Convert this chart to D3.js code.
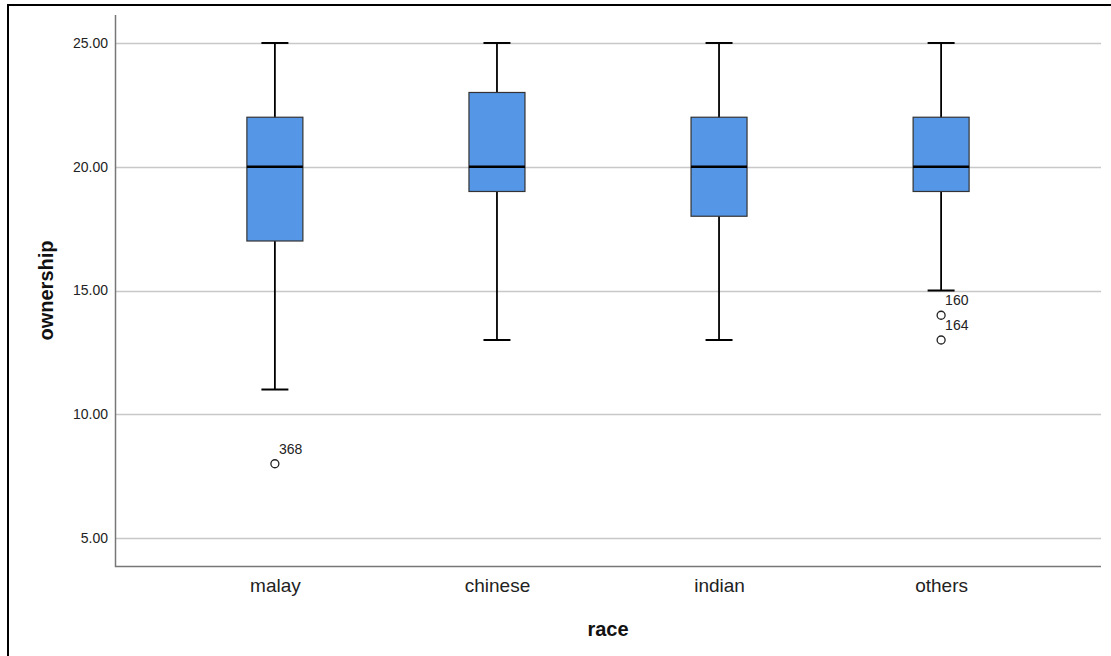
<!DOCTYPE html>
<html>
<head>
<meta charset="utf-8">
<script src="https://cdn.jsdelivr.net/npm/d3@7"></script>
<style>
  body { margin: 0; background: #fff; }
  svg { display: block; font-family: "Liberation Sans", Arial, sans-serif; }
</style>
</head>
<body>
<div id="chart"></div>
<script>
// box plot values
var categories = ['malay', 'chinese', 'indian', 'others'];
var mins    = [11, 13, 13, 15];
var q1s     = [17, 19, 18, 19];
var medians = [20, 20, 20, 20];
var q3s     = [22, 23, 22, 22];
var maxs    = [25, 25, 25, 25];
var outliers = [
  {race: 'malay',  value: 8,  id: '368'},
  {race: 'others', value: 14, id: '160'},
  {race: 'others', value: 13, id: '164'}
];
var yTicks = [5, 10, 15, 20, 25];

var width = 1111,
    height = 656;

var plotLeft = 115, plotRight = 1101, plotTop = 15, plotBottom = 566;

var svg = d3.select('#chart').append('svg')
    .attr('width', width)
    .attr('height', height);

// outer frame (left + top visible)
svg.append('path')
    .attr('d', 'M8,' + height + 'V5H' + width)
    .attr('fill', 'none')
    .attr('stroke', '#000')
    .attr('stroke-width', 2);

var x = d3.scalePoint()
    .domain(categories)
    .range([plotLeft, plotRight])
    .padding(0.72);

var y = d3.scaleLinear()
    .domain([3.87, 26.13])
    .range([plotBottom, plotTop]);

// gridlines
svg.append('g')
    .selectAll('line')
    .data(yTicks)
    .enter().append('line')
    .attr('x1', plotLeft)
    .attr('x2', plotRight)
    .attr('y1', function(d) { return Math.round(y(d)) + 0.5; })
    .attr('y2', function(d) { return Math.round(y(d)) + 0.5; })
    .attr('stroke', '#c8c8c8')
    .attr('stroke-width', 1.5);

// axes
var yAxis = svg.append('g')
    .attr('transform', 'translate(' + plotLeft + ',0)')
    .call(d3.axisLeft(y).tickValues(yTicks).tickSize(0).tickPadding(7)
      .tickFormat(d3.format('.2f')));
yAxis.select('.domain').remove();
yAxis.selectAll('text')
    .attr('font-size', 14)
    .attr('fill', '#222')
    .style('font-family', '"Liberation Sans", Arial, sans-serif');

var xAxis = svg.append('g')
    .attr('transform', 'translate(0,' + plotBottom + ')')
    .call(d3.axisBottom(x).tickSize(0).tickPadding(13));
xAxis.select('.domain').remove();
xAxis.selectAll('text')
    .attr('font-size', 19)
    .attr('fill', '#222')
    .style('font-family', '"Liberation Sans", Arial, sans-serif');

svg.append('path')
    .attr('d', 'M' + (plotLeft + 0.5) + ',' + plotTop + 'V' + (plotBottom + 0.5) + 'H' + plotRight)
    .attr('fill', 'none')
    .attr('stroke', '#777')
    .attr('stroke-width', 1.5);

// boxes
var boxW = 56, capW = 27;
var stats = categories.map(function(c, i) {
  return {race: c, min: mins[i], q1: q1s[i], med: medians[i], q3: q3s[i], max: maxs[i]};
});

var g = svg.selectAll('.box')
    .data(stats)
    .enter().append('g')
    .attr('class', 'box');

g.append('line')
    .attr('x1', function(d) { return x(d.race); })
    .attr('x2', function(d) { return x(d.race); })
    .attr('y1', function(d) { return y(d.max); })
    .attr('y2', function(d) { return y(d.min); })
    .attr('stroke', '#000')
    .attr('stroke-width', 1.8);

g.selectAll('.cap')
    .data(function(d) { return [{race: d.race, v: d.min}, {race: d.race, v: d.max}]; })
    .enter().append('line')
    .attr('x1', function(d) { return x(d.race) - capW / 2; })
    .attr('x2', function(d) { return x(d.race) + capW / 2; })
    .attr('y1', function(d) { return y(d.v); })
    .attr('y2', function(d) { return y(d.v); })
    .attr('stroke', '#000')
    .attr('stroke-width', 2);

g.append('rect')
    .attr('x', function(d) { return x(d.race) - boxW / 2; })
    .attr('y', function(d) { return y(d.q3); })
    .attr('width', boxW)
    .attr('height', function(d) { return y(d.q1) - y(d.q3); })
    .attr('fill', '#5596e6')
    .attr('stroke', '#333')
    .attr('stroke-width', 1.2);

g.append('line')
    .attr('x1', function(d) { return x(d.race) - boxW / 2; })
    .attr('x2', function(d) { return x(d.race) + boxW / 2; })
    .attr('y1', function(d) { return y(d.med); })
    .attr('y2', function(d) { return y(d.med); })
    .attr('stroke', '#000')
    .attr('stroke-width', 2.5);

// outliers
var o = svg.selectAll('.outlier')
    .data(outliers)
    .enter().append('g')
    .attr('class', 'outlier');

o.append('circle')
    .attr('cx', function(d) { return x(d.race); })
    .attr('cy', function(d) { return y(d.value); })
    .attr('r', 4)
    .attr('fill', '#fff')
    .attr('stroke', '#222')
    .attr('stroke-width', 1.3);

o.append('text')
    .attr('x', function(d) { return x(d.race) + 4; })
    .attr('y', function(d) { return y(d.value) - 10; })
    .attr('font-size', 14)
    .attr('fill', '#222')
    .text(function(d) { return d.id; });

// axis titles
svg.append('text')
    .attr('transform', 'translate(53,' + ((plotTop + plotBottom) / 2) + ') rotate(-90)')
    .attr('text-anchor', 'middle')
    .attr('font-size', 20)
    .attr('font-weight', 'bold')
    .attr('fill', '#111')
    .text('ownership');

svg.append('text')
    .attr('x', (plotLeft + plotRight) / 2)
    .attr('y', 636)
    .attr('text-anchor', 'middle')
    .attr('font-size', 20)
    .attr('font-weight', 'bold')
    .attr('fill', '#111')
    .text('race');
</script>
</body>
</html>
